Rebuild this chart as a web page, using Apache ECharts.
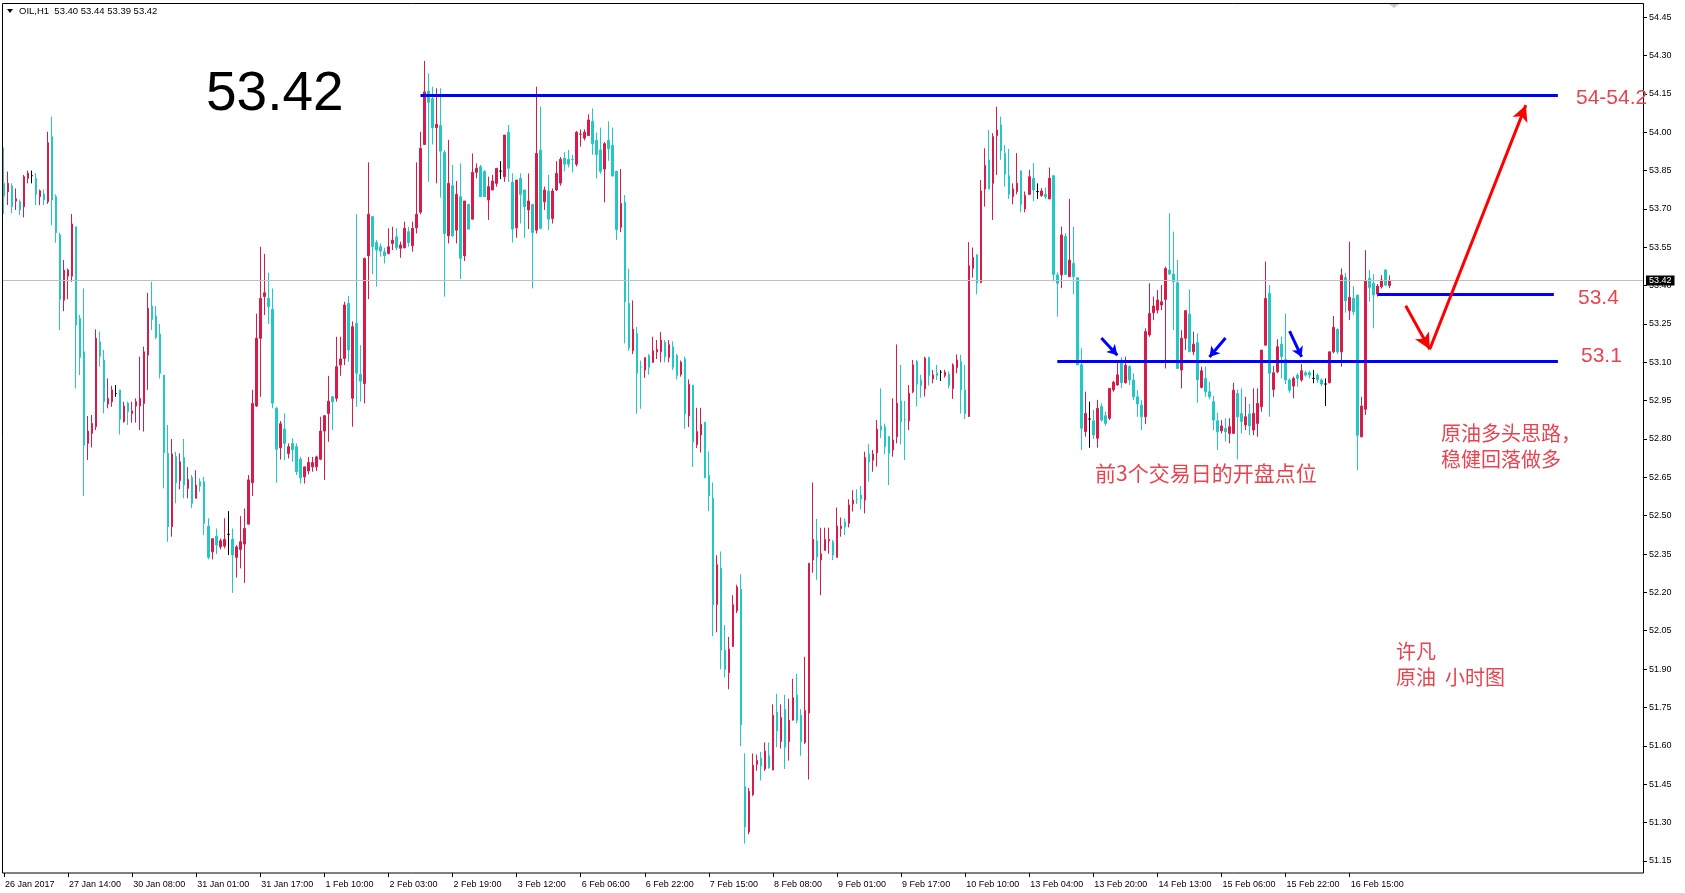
<!DOCTYPE html>
<html>
<head>
<meta charset="utf-8">
<script src="https://cdn.jsdelivr.net/npm/echarts/dist/echarts.min.js"></script>
<style>
html,body{margin:0;padding:0;background:#fff;}
#chart{width:1685px;height:893px;}
</style>
</head>
<body>
<div id="chart"></div>
<script>
// ---------- data ----------
const symbolName = 'OIL,H1';
const lastBar = [53.40, 53.44, 53.39, 53.42]; // O H L C
const lastPrice = 53.42;

const tickLabels = ['26 Jan 2017','27 Jan 14:00','30 Jan 08:00','31 Jan 01:00','31 Jan 17:00','1 Feb 10:00','2 Feb 03:00','2 Feb 19:00','3 Feb 12:00','6 Feb 06:00','6 Feb 22:00','7 Feb 15:00','8 Feb 08:00','9 Feb 01:00','9 Feb 17:00','10 Feb 10:00','13 Feb 04:00','13 Feb 20:00','14 Feb 13:00','15 Feb 06:00','15 Feb 22:00','16 Feb 15:00'];
const barsPerTick = 16;
const slotCount = 410; // hourly slots shown on the axis (bars + empty right margin)

// [open, close, low, high]
const candles = [
[53.80,53.75,53.68,53.94],[53.767,53.80,53.715,53.846],[53.79,53.709,53.683,53.80],[53.73,53.74,53.696,53.78],[53.728,53.696,53.676,53.737],
[53.709,53.826,53.667,53.833],[53.82,53.84,53.80,53.85],[53.83,53.83,53.80,53.85],[53.82,53.757,53.715,53.84],[53.748,53.771,53.715,53.776],
[53.758,53.735,53.715,53.776],[53.728,53.959,53.72,54.002],[53.983,53.735,53.637,54.061],[53.748,53.607,53.568,53.757],[53.598,53.347,53.226,53.607],
[53.343,53.461,53.30,53.50],[53.437,53.461,53.347,53.467],[53.437,53.641,53.415,53.68],[53.63,53.246,52.998,53.63],[53.272,53.119,53.05,53.285],
[53.141,52.776,52.577,53.389],[52.783,52.831,52.718,52.89],[52.822,52.861,52.767,52.894],[52.848,53.194,52.835,53.229],[53.18,53.124,53.083,53.22],
[53.109,52.946,52.90,53.148],[52.937,52.959,52.92,53.037],[52.946,52.992,52.926,53.008],[52.978,52.978,52.965,53.011],[52.992,52.877,52.818,52.992],
[52.868,52.929,52.864,52.946],[52.94,52.907,52.855,52.946],[52.90,52.91,52.864,52.946],[52.929,52.946,52.864,52.959],[52.929,52.959,52.835,53.122],
[52.939,53.141,52.829,53.161],[53.128,53.311,52.992,53.372],[53.32,53.268,53.226,53.415],[53.281,53.198,53.19,53.32],[53.211,53.057,53.037,53.25],
[53.05,52.746,52.607,53.05],[52.744,52.457,52.398,52.855],[52.457,52.741,52.418,52.80],[52.731,52.629,52.548,52.75],[52.637,52.711,52.603,52.744],
[52.728,52.62,52.568,52.80],[52.607,52.642,52.568,52.69],[52.65,52.548,52.529,52.659],[52.568,52.62,52.568,52.678],[52.633,52.616,52.594,52.646],
[52.633,52.47,52.424,52.652],[52.459,52.337,52.329,52.49],[52.359,52.41,52.329,52.41],[52.42,52.385,52.35,52.45],[52.378,52.402,52.368,52.411],
[52.381,52.407,52.372,52.49],[52.427,52.427,52.346,52.518],[52.407,52.346,52.198,52.45],[52.337,52.378,52.258,52.385],[52.368,52.398,52.294,52.498],
[52.389,52.45,52.237,52.528],[52.467,52.64,52.467,52.659],[52.629,52.939,52.577,52.992],[52.929,53.194,52.925,53.29],[53.194,53.35,52.965,53.552],
[53.357,53.372,53.285,53.524],[53.35,53.318,53.25,53.45],[53.307,52.94,52.92,53.389],[52.92,52.76,52.629,52.926],
[52.766,52.86,52.72,52.87],[52.839,52.783,52.717,52.90],[52.743,52.77,52.724,52.783],[52.783,52.757,52.711,52.802],[52.77,52.672,52.659,52.783],
[52.721,52.648,52.626,52.73],[52.652,52.691,52.626,52.691],[52.675,52.708,52.662,52.73],[52.691,52.708,52.672,52.73],[52.691,52.73,52.675,52.735],
[52.721,52.831,52.717,52.887],[52.831,52.891,52.64,52.894],[52.90,52.948,52.789,53.047],[52.965,52.945,52.835,52.969],[52.959,53.083,52.946,53.20],
[53.089,53.113,53.047,53.20],[53.115,53.324,53.089,53.337],[53.33,53.148,53.102,53.36],[52.959,53.239,52.848,53.26],[53.252,53.057,52.926,53.679],
[53.053,53.026,52.946,53.167],[53.017,53.506,52.939,53.51],[53.517,53.679,53.347,53.882],[53.67,53.552,53.444,53.67],[53.569,53.539,53.396,53.578],
[53.552,53.535,53.513,53.565],[53.532,53.517,53.487,53.548],[53.526,53.552,53.522,53.624],[53.565,53.578,53.539,53.63],[53.591,53.548,53.539,53.624],
[53.546,53.559,53.509,53.572],[53.548,53.624,53.546,53.65],[53.611,53.569,53.552,53.63],[53.556,53.624,53.533,53.65],[53.626,53.679,53.604,53.882],
[53.687,53.937,53.679,54.002],[53.952,54.158,53.952,54.279],[54.161,54.117,53.806,54.23],[54.132,54.018,53.952,54.178],[54.018,54.031,53.80,54.172],
[54.026,53.926,53.744,54.172],[53.921,53.604,53.357,53.93],[53.595,53.80,53.565,53.97],[53.791,53.595,53.591,53.872],[53.617,53.757,53.565,53.809],
[53.748,53.507,53.426,53.878],[53.517,53.731,53.496,53.731],[53.718,53.621,53.621,53.718],[53.66,53.843,53.66,53.917],[53.843,53.859,53.82,53.878],
[53.865,53.748,53.748,53.872],[53.846,53.748,53.748,53.852],[53.735,53.787,53.657,53.826],[53.774,53.809,53.774,53.833],[53.80,53.859,53.787,53.859],
[53.848,53.848,53.817,53.887],[53.826,53.989,53.806,53.989],[54.0,53.859,53.806,54.028],[53.804,53.621,53.569,53.839],[53.626,53.813,53.587,53.813],
[53.82,53.757,53.643,53.839],[53.774,53.709,53.587,53.774],[53.696,53.731,53.621,53.839],[53.718,53.608,53.389,53.718],[53.617,53.917,53.604,54.178],
[53.93,53.624,53.62,54.10],[53.728,53.774,53.696,53.787],[53.77,53.66,53.617,53.833],[53.663,53.77,53.643,53.78],[53.774,53.839,53.77,53.887],
[53.801,53.894,53.791,53.903],[53.899,53.875,53.847,53.922],[53.894,53.875,53.862,53.931],[53.894,53.893,53.843,53.912],[53.875,54.0,53.866,54.005],
[53.992,53.993,53.944,54.011],[53.977,54.0,53.968,54.011],[53.987,54.048,53.987,54.07],[54.042,53.955,53.912,54.093],[53.968,53.912,53.819,53.999],
[53.931,53.847,53.838,54.018],[53.856,53.955,53.726,53.962],[53.968,53.936,53.888,54.042],[53.949,53.829,53.827,54.018],[53.847,53.62,53.578,53.849],
[53.628,53.721,53.609,53.856],[53.726,53.336,53.174,53.754],[53.33,53.156,53.145,53.466],[53.145,53.23,53.132,53.342],[53.212,53.057,52.899,53.238],
[53.082,53.081,52.918,53.107],[53.07,53.118,53.039,53.12],[53.126,53.081,53.052,53.132],[53.1,53.145,53.098,53.2],[53.141,53.15,53.113,53.187],
[53.141,53.187,53.1,53.219],[53.178,53.122,53.1,53.187],[53.119,53.169,53.1,53.187],[53.16,53.081,53.07,53.182],[53.126,53.048,53.033,53.132],
[53.052,53.1,53.044,53.107],[53.113,52.899,52.84,53.122],[52.89,53.014,52.847,53.033],[53.011,52.788,52.691,53.011],[52.778,52.829,52.765,52.922],
[52.816,52.858,52.747,52.922],[52.866,52.648,52.648,52.866],[52.658,52.579,52.518,52.751],[52.568,52.152,52.029,52.63],[52.152,52.308,52.044,52.345],
[52.295,51.974,51.899,52.36],[51.974,51.899,51.868,52.072],[51.886,51.979,51.821,52.026],[51.988,52.152,51.988,52.189],[52.128,52.221,52.119,52.23],
[52.212,51.682,51.598,52.271],[51.44,51.282,51.217,51.57],[51.263,51.422,51.254,51.435],[51.409,51.524,51.403,51.57],[51.527,51.542,51.502,51.565],
[51.552,51.52,51.464,51.576],[51.509,51.579,51.502,51.613],[51.561,51.515,51.51,51.613],[51.505,51.719,51.505,51.762],[51.732,51.658,51.594,51.803],
[51.617,51.71,51.589,51.762],[51.743,51.594,51.509,51.799],[51.617,51.7,51.542,51.784],[51.7,51.788,51.7,51.862],[51.799,51.7,51.687,51.881],
[51.719,51.617,51.561,51.743],[51.613,51.738,51.607,51.948],[51.728,52.314,51.468,52.314],[52.327,52.407,52.277,52.63],[52.401,52.338,52.249,52.487],
[52.327,52.351,52.189,52.453],[52.364,52.407,52.364,52.453],[52.401,52.407,52.351,52.453],[52.398,52.346,52.326,52.405],[52.337,52.46,52.337,52.532],
[52.45,52.459,52.418,52.493],[52.476,52.457,52.424,52.489],[52.47,52.542,52.454,52.564],[52.546,52.561,52.516,52.6],[52.565,52.564,52.546,52.603],
[52.581,52.565,52.525,52.616],[52.561,52.728,52.509,52.75],[52.741,52.711,52.633,52.78],[52.717,52.741,52.672,52.757],[52.746,52.838,52.692,52.874],
[52.851,52.835,52.803,52.998],[52.848,52.77,52.74,52.86],[52.809,52.744,52.62,52.812],[52.757,52.796,52.731,52.959],[52.809,52.94,52.783,53.17],
[52.949,52.868,52.779,53.09],[52.878,52.877,52.718,52.949],[52.871,52.979,52.835,53.011],[52.985,53.09,52.979,53.109],[53.103,53.014,52.927,53.109],
[53.031,53.009,52.962,53.051],[52.996,53.116,52.966,53.122],[53.118,53.048,53.009,53.122],[53.035,53.051,53.018,53.07],[53.057,53.048,53.031,53.09],
[53.061,53.061,53.027,53.07],[53.048,53.061,53.04,53.07],[53.053,53.009,52.998,53.064],[52.998,53.09,52.957,53.096],[53.079,53.109,53.057,53.131],
[53.103,52.992,52.9,53.129],[52.992,52.9,52.878,53.09],[52.888,53.478,52.886,53.57],[53.468,53.51,53.431,53.549],[53.52,53.409,53.366,53.523],
[53.413,53.77,53.409,53.813],[53.778,53.87,53.709,53.937],[53.892,53.778,53.778,54.009],[53.8,53.983,53.657,53.996],[53.987,54.009,53.833,54.1],
[54.029,53.927,53.892,54.061],[53.918,53.836,53.787,53.95],[53.83,53.757,53.739,53.935],[53.748,53.778,53.718,53.8],[53.768,53.8,53.757,53.918],
[53.849,53.718,53.687,53.849],[53.7,53.752,53.687,53.768],[53.757,53.826,53.755,53.853],[53.82,53.774,53.731,53.879],[53.768,53.768,53.739,53.8],
[53.752,53.77,53.748,53.781],[53.757,53.748,53.739,53.783],[53.739,53.82,53.739,53.862],[53.83,53.444,53.416,53.83],[53.442,53.409,53.279,53.452],
[53.442,53.598,53.39,53.631],[53.592,53.444,53.442,53.605],[53.435,53.5,53.435,53.739],[53.487,53.435,53.366,53.631],[53.431,53.09,53.09,53.431],
[53.09,52.842,52.757,53.155],[52.829,52.9,52.809,52.985],[52.878,52.878,52.766,52.946],[52.871,52.816,52.8,52.914],[52.803,52.92,52.766,52.953],
[52.927,52.874,52.868,52.94],[52.891,52.861,52.852,52.907],[52.881,52.998,52.874,52.998],[52.992,53.022,52.985,53.027],[53.011,53.051,53.009,53.103],
[53.109,53.02,53.0,53.12],[53.02,53.089,53.017,53.122],[53.083,53.031,53.011,53.089],[53.031,52.965,52.952,53.057],[52.965,52.937,52.887,52.991],
[52.933,52.887,52.835,52.952],[52.887,53.22,52.858,53.233],[53.207,53.291,53.2,53.409],[53.294,53.32,53.265,53.357],[53.304,53.344,53.291,53.383],
[53.324,53.337,53.304,53.402],[53.346,53.467,53.076,53.474],[53.461,53.445,53.441,53.683],[53.445,53.415,53.226,53.611],[53.411,53.076,53.076,53.5],
[53.07,53.194,52.998,53.226],[53.194,53.302,53.148,53.302],[53.289,53.141,53.141,53.385],[53.141,53.171,53.128,53.22],[53.177,53.031,52.942,53.213],
[53.002,53.067,52.998,53.083],[53.037,52.985,52.965,53.083],[52.985,52.965,52.955,53.024],[52.946,52.874,52.835,52.968],[52.871,52.828,52.757,52.903],
[52.832,52.851,52.822,52.874],[52.841,52.828,52.79,52.881],[52.822,52.848,52.783,52.881],[52.822,52.991,52.822,53.02],[52.978,52.887,52.72,52.994],
[52.9,52.868,52.822,52.998],[52.855,52.887,52.835,52.965],[52.898,52.851,52.815,52.937],[52.835,52.9,52.815,52.998],[52.861,52.939,52.809,52.998],
[52.926,53.148,52.907,53.148],[53.167,53.35,53.167,53.494],[53.37,53.057,52.887,53.402],[52.994,53.059,52.965,53.085],[53.063,53.161,53.057,53.19],
[53.171,53.122,53.037,53.2],[53.111,53.031,53.015,53.291],[53.031,52.991,52.981,53.037],[53.007,53.037,52.959,53.044],[53.05,53.037,53.004,53.057],
[53.031,53.067,53.024,53.093],[53.059,53.05,53.044,53.067],[53.059,53.05,53.037,53.067],[53.037,53.037,53.018,53.07],[53.05,53.033,53.02,53.057],
[53.031,53.015,53.007,53.037],[53.015,53.015,52.929,53.037],[53.02,53.141,53.018,53.141],[53.141,53.237,53.135,53.281],[53.229,53.141,53.132,53.233],
[53.141,53.441,53.083,53.467],[53.432,53.341,53.294,53.45],[53.302,53.354,53.265,53.572],[53.35,53.298,53.285,53.398],[53.363,52.815,52.678,53.363],
[52.809,52.929,52.806,52.965],[52.916,53.419,52.894,53.539],[53.428,53.393,53.337,53.461],[53.409,53.363,53.233,53.445],[53.367,53.398,53.357,53.406],
[53.396,53.422,53.389,53.441],[53.461,53.402,53.398,53.464],[53.40,53.42,53.39,53.44]
];

// annotation levels: [price, fromBar, toBar]
const levelLines = [[54.145,104,388],[53.104,263,388],[53.366,343,387]];
// blue pointer arrows: [fromBar, fromPrice, toBar, toPrice]
const blueArrows = [[274,53.195,278,53.128],[305,53.195,301,53.121],[321,53.222,324,53.121]];
// red scenario arrows: [fromBar, fromPrice, toBar, toPrice]
const redArrows = [[350,53.321,356,53.151],[356,53.151,380,54.106]];

const yMin = 51.15, yMax = 54.45, yStep = 0.15;

// ---------- chart ----------
const categories = Array.from({length: slotCount}, (_, i) => String(i));
const chart = echarts.init(document.getElementById('chart'), null, {renderer: 'canvas'});

const RED = '#d81b48', CYAN = '#22c7c7', BLUE = '#0000ff', ARR = '#ff0000', TXT = '#e8434f';

function seg(a, style, endSym, endSize) {
  return [
    {coord: [a[0], a[1]], symbol: 'none', lineStyle: style},
    {coord: [a[2], a[3]], symbol: endSym, symbolSize: endSize, lineStyle: style}
  ];
}

const option = {
  animation: false,
  backgroundColor: '#ffffff',
  grid: {left: 2, right: 41, top: 17.2, bottom: 32.2, containLabel: false},
  xAxis: {
    type: 'category',
    data: categories,
    boundaryGap: true,
    offset: 12.2,
    axisLine: {show: false},
    axisTick: {show: true, length: 4, alignWithLabel: true,
      interval: (i) => i % barsPerTick === 0 && i / barsPerTick < tickLabels.length,
      lineStyle: {color: '#000'}},
    axisLabel: {
      show: true,
      interval: (i) => i % barsPerTick === 0 && i / barsPerTick < tickLabels.length,
      formatter: (v, i) => tickLabels[Math.round(i / barsPerTick)] || '',
      align: 'left', padding: [0, 0, 0, 1], margin: 7,
      fontSize: 9, color: '#000', fontFamily: 'Liberation Sans'
    },
    splitLine: {show: false}
  },
  yAxis: {
    type: 'value',
    position: 'right',
    min: yMin, max: yMax, interval: yStep,
    scale: true,
    axisLine: {show: false},
    axisTick: {show: true, length: 3, lineStyle: {color: '#000'}},
    axisLabel: {formatter: (v) => v.toFixed(2), fontSize: 9, color: '#000', margin: 5, fontFamily: 'Liberation Sans'},
    splitLine: {show: false}
  },
  series: [
    {
      type: 'candlestick',
      data: candles,
      barWidth: 2,
      itemStyle: {
        color: RED, color0: CYAN, borderColor: RED, borderColor0: CYAN,
        borderColorDoji: '#000', borderWidth: 1
      },
      markLine: {
        silent: true,
        symbol: ['none', 'none'],
        data: [{yAxis: lastPrice}],
        lineStyle: {color: '#c0c0c0', width: 1, type: 'solid'},
        label: {show: true, position: 'end', distance: 2, formatter: lastPrice.toFixed(2),
          color: '#fff', backgroundColor: '#000', fontSize: 9, padding: [1, 3, 0, 3], fontFamily: 'Liberation Sans'}
      },
      z: 2
    },
    {
      type: 'line', data: [], z: 3,
      markLine: {
        silent: true, symbol: ['none', 'none'], label: {show: false},
        lineStyle: {color: BLUE, width: 3, type: 'solid'},
        data: levelLines.map(l => seg([l[1], l[0], l[2], l[0]], {color: BLUE, width: 3, type: 'solid'}, 'none', 0))
          .concat(blueArrows.map(a => seg(a, {color: BLUE, width: 3, type: 'solid'}, 'arrow', [9, 10])))
      }
    },
    {
      type: 'line', data: [], z: 4,
      markLine: {
        silent: true, symbol: ['none', 'none'], label: {show: false},
        lineStyle: {color: ARR, width: 3, type: 'solid'},
        data: redArrows.map(a => seg(a, {color: ARR, width: 3, type: 'solid'}, 'arrow', [12, 16]))
      }
    }
  ],
  graphic: [
    {type: 'rect', silent: true, z: 10, shape: {x: 2.5, y: 3.5, width: 1641, height: 869.5},
      style: {fill: 'none', stroke: '#000', lineWidth: 1}},
    {type: 'polygon', silent: true, z: 10, shape: {points: [[7, 9], [13, 9], [10, 13]]}, style: {fill: '#000'}},
    {type: 'polygon', silent: true, z: 10, shape: {points: [[1389, 4], [1399, 4], [1394, 8]]}, style: {fill: '#c8c8c8'}},
    {type: 'text', silent: true, z: 10, left: 19, top: 6,
      style: {text: symbolName + '  ' + lastBar.map(v => v.toFixed(2)).join(' '), fontSize: 9.5, fill: '#000', fontFamily: 'Liberation Sans'}},
    {type: 'text', silent: true, z: 10, left: 206, top: 67,
      style: {text: lastPrice.toFixed(2), fontSize: 55, fill: '#000', fontFamily: 'Liberation Sans'}},
    {type: 'text', silent: true, z: 10, left: 1576, top: 88,
      style: {text: '54-54.2', fontSize: 21, fill: TXT, fontFamily: 'Liberation Sans'}},
    {type: 'text', silent: true, z: 10, left: 1578, top: 288,
      style: {text: '53.4', fontSize: 21, fill: TXT, fontFamily: 'Liberation Sans'}},
    {type: 'text', silent: true, z: 10, left: 1581, top: 346,
      style: {text: '53.1', fontSize: 21, fill: TXT, fontFamily: 'Liberation Sans'}},
    {type: 'text', silent: true, z: 10, left: 1095, top: 463,
      style: {text: '前3个交易日的开盘点位', fontSize: 21, fill: TXT, fontFamily: 'Noto Sans CJK SC'}},
    {type: 'text', silent: true, z: 10, left: 1441, top: 420,
      style: {text: '原油多头思路，\n稳健回落做多', fontSize: 20, lineHeight: 26, fill: TXT, fontFamily: 'Noto Sans CJK SC'}},
    {type: 'text', silent: true, z: 10, left: 1396, top: 638,
      style: {text: '许凡\n原油  小时图', fontSize: 20, lineHeight: 26, fill: TXT, fontFamily: 'Noto Sans CJK SC'}}
  ]
};
chart.setOption(option);
</script>
</body>
</html>
